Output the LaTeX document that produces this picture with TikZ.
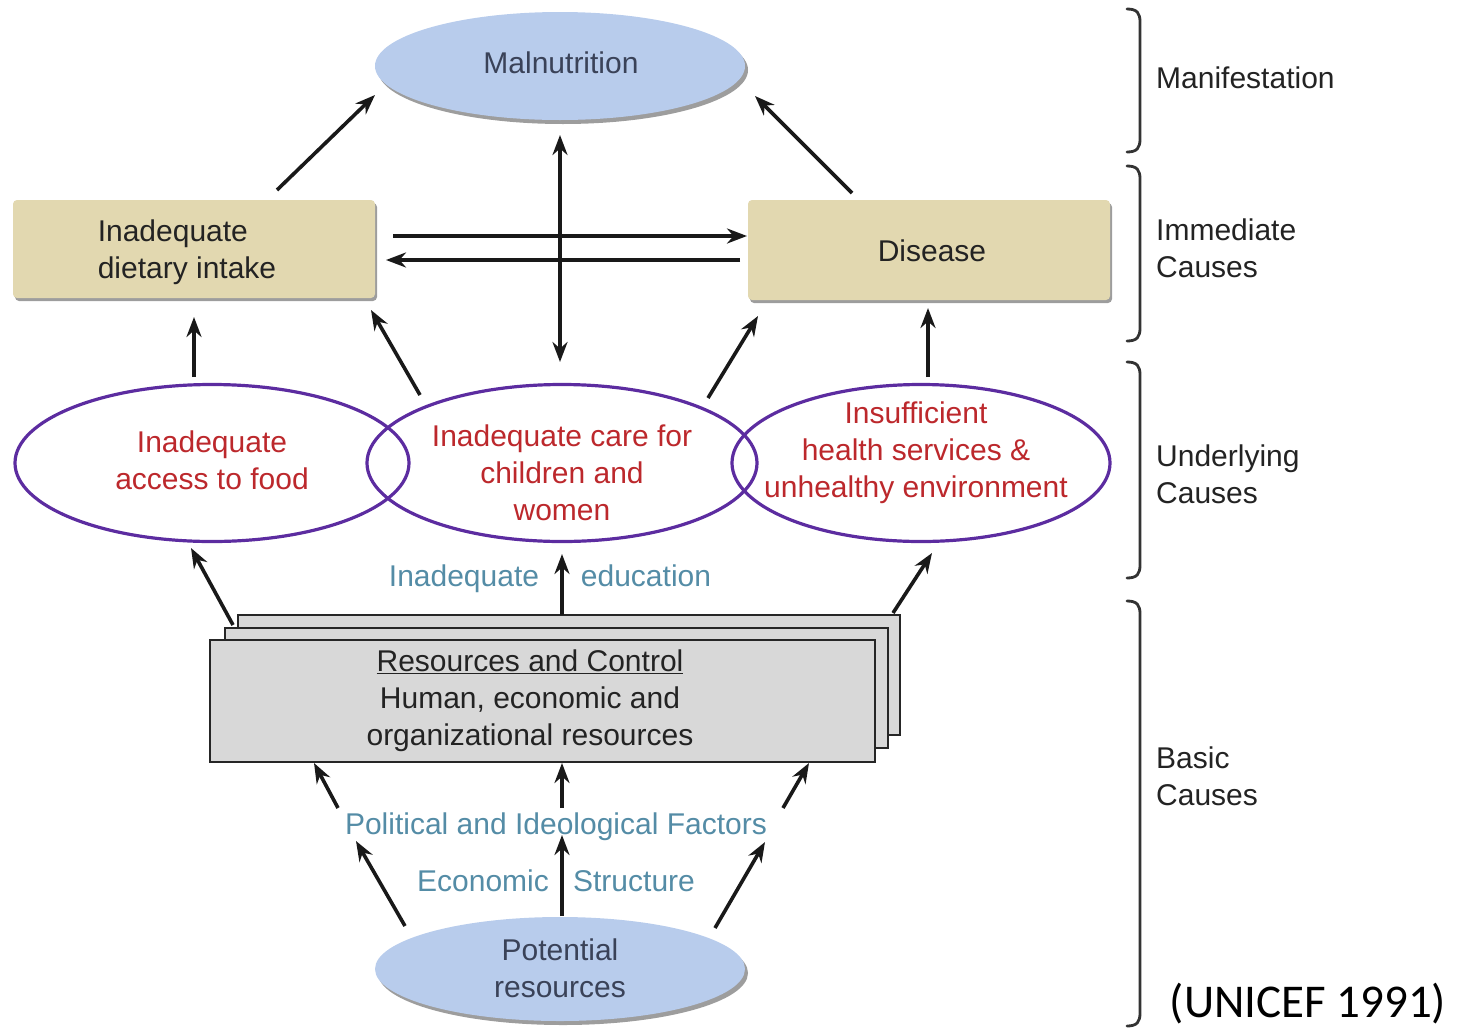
\documentclass[tikz,border=0pt]{standalone}
\usepackage{fontspec}
\setmainfont{Liberation Sans}
\newfontfamily\calib{Carlito}
\usetikzlibrary{shapes.geometric,arrows.meta,shadows}
\definecolor{ellblue}{RGB}{184,204,236}
\definecolor{ellblueTxt}{RGB}{58,66,88}
\definecolor{tan}{RGB}{226,216,176}
\definecolor{resgray}{RGB}{216,216,216}
\definecolor{purp}{RGB}{92,44,160}
\definecolor{redtxt}{RGB}{188,40,44}
\definecolor{teal}{RGB}{84,140,166}
\definecolor{darktxt}{RGB}{35,35,35}
\begin{document}
\begin{tikzpicture}[x=1pt,y=-1pt,
  txt/.style={font=\fontsize{30}{37}\selectfont, align=center, inner sep=0pt},
  lbl/.style={font=\fontsize{30}{37}\selectfont, inner sep=0pt, anchor=base},
  blueell/.style={ellipse, fill=ellblue, inner sep=0pt, text=ellblueTxt,
    drop shadow={shadow xshift=3pt, shadow yshift=-4pt, fill=black!55, opacity=0.7}},
  tanbox/.style={rectangle, rounded corners=4pt, fill=tan, inner sep=0pt,
    drop shadow={shadow xshift=2pt, shadow yshift=-3pt, fill=black!55, opacity=0.7}},
  purpell/.style={ellipse, draw=purp, line width=3.2pt, inner sep=0pt},
  resbox/.style={rectangle, draw=black!85, fill=resgray, line width=2.8pt, inner sep=0pt},
  arr/.style={line width=3.6pt, draw=black!90, -{Stealth[length=20pt,width=15pt]}},
  dblarr/.style={line width=3.6pt, draw=black!90, {Stealth[length=20pt,width=15pt]}-{Stealth[length=20pt,width=15pt]}},
  bracepath/.style={line width=2.8pt, draw=black!80, line cap=round},
  sidelbl/.style={txt, align=left, anchor=west, text=darktxt}
]
\useasboundingbox (0,0) rectangle (1459,1031);

% ---- Manifestation ----
\node[blueell, minimum width=370pt, minimum height=108pt] (mal) at (560,66) {};
\node[txt, text=ellblueTxt] (maltxt) at (561,63) {Malnutrition};

% ---- Immediate causes ----
\node[tanbox, minimum width=362pt, minimum height=98pt] (diet) at (194,249) {};
\node[txt, align=left, text=darktxt] (diettxt) at (187,252) {Inadequate\\dietary intake};
\node[tanbox, minimum width=362pt, minimum height=100pt] (dis) at (929,250) {};
\node[txt, text=darktxt] (distxt) at (932,251) {Disease};

% ---- Underlying causes ----
\node[purpell, minimum width=394pt, minimum height=157pt] (acc) at (212,463) {};
\node[purpell, minimum width=390pt, minimum height=157pt] (care) at (562,463) {};
\node[purpell, minimum width=378pt, minimum height=157pt] (hlth) at (921,463) {};
\node[txt, text=redtxt] (acctxt) at (212,460) {Inadequate\\access to food};
\node[txt, text=redtxt] (caretxt) at (562,473) {Inadequate care for\\children and\\women};
\node[txt, text=redtxt] (hlthtxt) at (916,453) {Insufficient\\health services \&\\unhealthy environment};

% ---- Basic causes: resources box ----
\draw[resbox] (238,615) rectangle (900,735);
\draw[resbox] (225,628) rectangle (888,748);
\node[resbox, minimum width=665pt, minimum height=122pt] (res) at (542.5,701) {};
\node[txt, text=darktxt] (restxt) at (530,701) {\underline{Resources and Control}\\Human, economic and\\organizational resources};

% ---- Potential resources ----
\node[blueell, minimum width=370pt, minimum height=104pt] (pot) at (560,969) {};
\node[txt, text=ellblueTxt] (pottxt) at (560,968) {Potential\\resources};

% ---- Teal labels ----
\node[lbl, text=teal] (edu1) at (464,586) {Inadequate};
\node[lbl, text=teal] (edu2) at (646,586) {education};
\node[lbl, text=teal] (pol) at (556,834) {Political and Ideological Factors};
\node[lbl, text=teal] (eco1) at (483,891) {Economic};
\node[lbl, text=teal] (eco2) at (634,891) {Structure};

% ---- Arrow endpoints ----
\coordinate (a1s) at (277,190);  \coordinate (a1e) at (375,95);
\coordinate (a2s) at (852,193);  \coordinate (a2e) at (755,96);
\coordinate (a3s) at (560,135);  \coordinate (a3e) at (560,362);
\coordinate (a4s) at (393,236);  \coordinate (a4e) at (747,236);
\coordinate (a5s) at (740,260);  \coordinate (a5e) at (386,260);
\coordinate (a6s) at (194,377);  \coordinate (a6e) at (194,317);
\coordinate (a7s) at (420,395);  \coordinate (a7e) at (371,310);
\coordinate (a8s) at (708,398);  \coordinate (a8e) at (758,316);
\coordinate (a9s) at (928,377);  \coordinate (a9e) at (928,308);
\coordinate (b1s) at (233,625);  \coordinate (b1e) at (191,548);
\coordinate (b2s) at (562,615);  \coordinate (b2e) at (562,554);
\coordinate (b3s) at (893,613);  \coordinate (b3e) at (932,553);
\coordinate (c1s) at (338,808);  \coordinate (c1e) at (314,763);
\coordinate (c2s) at (562,808);  \coordinate (c2e) at (562,763);
\coordinate (c3s) at (783,808);  \coordinate (c3e) at (809,763);
\coordinate (d1s) at (405,926);  \coordinate (d1e) at (356,841);
\coordinate (d2s) at (562,916);  \coordinate (d2e) at (562,835);
\coordinate (d3s) at (715,928);  \coordinate (d3e) at (765,842);

\draw[arr] (a1s) -- (a1e);
\draw[arr] (a2s) -- (a2e);
\draw[dblarr] (a3s) -- (a3e);
\draw[arr] (a4s) -- (a4e);
\draw[arr] (a5s) -- (a5e);
\draw[arr] (a6s) -- (a6e);
\draw[arr] (a7s) -- (a7e);
\draw[arr] (a8s) -- (a8e);
\draw[arr] (a9s) -- (a9e);
\draw[arr] (b1s) -- (b1e);
\draw[arr] (b2s) -- (b2e);
\draw[arr] (b3s) -- (b3e);
\draw[arr] (c1s) -- (c1e);
\draw[arr] (c2s) -- (c2e);
\draw[arr] (c3s) -- (c3e);
\draw[arr] (d1s) -- (d1e);
\draw[arr] (d2s) -- (d2e);
\draw[arr] (d3s) -- (d3e);

% ---- Braces ----
\draw[bracepath] (1127,9) .. controls (1137,9) and (1140,13) .. (1140,22) -- (1140,139) .. controls (1140,148) and (1137,152) .. (1127,152);
\draw[bracepath] (1127,166) .. controls (1137,166) and (1140,170) .. (1140,179) -- (1140,328) .. controls (1140,337) and (1137,341) .. (1127,341);
\draw[bracepath] (1127,362) .. controls (1137,362) and (1140,366) .. (1140,375) -- (1140,565) .. controls (1140,574) and (1137,578) .. (1127,578);
\draw[bracepath] (1127,601) .. controls (1137,601) and (1140,605) .. (1140,614) -- (1140,1013) .. controls (1140,1022) and (1137,1026) .. (1127,1026);

\node[sidelbl] (l1) at (1156,78) {Manifestation};
\node[sidelbl] (l2) at (1156,248) {Immediate\\Causes};
\node[sidelbl] (l3) at (1156,474) {Underlying\\Causes};
\node[sidelbl] (l4) at (1156,776) {Basic\\Causes};

\node[inner sep=0pt, font=\calib\fontsize{47}{50}\selectfont, text=black] (src) at (1308,1004) {(UNICEF 1991)};
\end{tikzpicture}
\end{document}
